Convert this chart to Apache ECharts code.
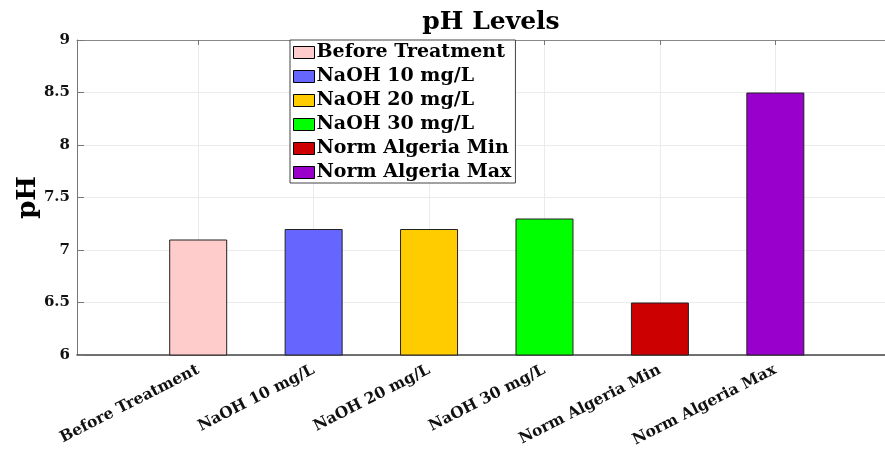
<!DOCTYPE html>
<html><head><meta charset="utf-8">
<script src="https://cdn.jsdelivr.net/npm/echarts@6/dist/echarts.min.js"></script>
<style>html,body{margin:0;padding:0;background:#fff}#c{width:885px;height:451px}</style>
</head><body><div id="c"></div>
<script>
const categories = ["Before Treatment","NaOH 10 mg/L","NaOH 20 mg/L","NaOH 30 mg/L","Norm Algeria Min","Norm Algeria Max"];
const phValues = [7.1, 7.2, 7.2, 7.3, 6.5, 8.5];
const barColors = ["#FFCCCC","#6666FF","#FFCC00","#00FF00","#CC0000","#9900CC"];
const yTicks = [6, 6.5, 7, 7.5, 8, 8.5, 9];

const positions = categories.map((c, i) => i + 1);
const font = "'DejaVu Serif','Liberation Serif',serif";
const chart = echarts.init(document.getElementById('c'));
const series = categories.map((name, i) => ({
  name: name,
  type: 'bar',
  data: [[positions[i], phValues[i]]],
  barWidth: 58,
  barGap: '-100%',
  itemStyle: { color: barColors[i], borderColor: '#222', borderWidth: 1 },
  emphasis: { disabled: true }
}));
chart.setOption({
  animation: false,
  title: { text: 'pH Levels', left: 486, textAlign: 'center', top: 5,
    textStyle: { fontFamily: font, fontWeight: 'bold', fontSize: 25, color: '#000' } },
  legend: {
    orient: 'vertical', left: 290, top: 40,
    backgroundColor: '#fff', borderColor: '#444', borderWidth: 1,
    padding: [3, 4, 1, 3], itemGap: 5, itemWidth: 21, itemHeight: 12,
    icon: 'rect',
    itemStyle: { borderColor: '#000', borderWidth: 1 },
    textStyle: { fontFamily: font, fontWeight: 'bold', fontSize: 19, lineHeight: 19, color: '#000', padding: [0,0,0,-3] },
    data: categories
  },
  grid: { left: 77, right: 0, top: 40, bottom: 96, containLabel: false, outerBoundsMode: 'none' },
  xAxis: [{
    type: 'value', min: -0.05, max: 6.95,
    axisLine: { show: true, onZero: false, lineStyle: { color: '#444', width: 1.5 } },
    axisTick: { show: false, customValues: positions },
    splitLine: { show: true, lineStyle: { color: '#ebebeb' } },
    axisLabel: {
      customValues: positions,
      rotate: 27, margin: 14,
      fontFamily: font, fontWeight: 'bold', fontSize: 15.5, color: '#111',
      formatter: v => categories[Math.round(v) - 1] || ''
    }
  }, {
    type: 'value', position: 'top', min: -0.05, max: 6.95,
    axisLine: { show: true, onZero: false, lineStyle: { color: '#888' } },
    axisTick: { show: true, inside: true, length: 5, customValues: positions, lineStyle: { color: '#777' } },
    axisLabel: { show: false }, splitLine: { show: false }
  }],
  yAxis: {
    type: 'value', min: 6, max: 9, interval: 0.5,
    name: 'pH', nameLocation: 'middle', nameGap: 36, nameRotate: 90, nameMoveOverlap: false,
    nameTextStyle: { fontFamily: font, fontWeight: 'bold', fontSize: 26, color: '#000' },
    axisLine: { show: true, onZero: false, lineStyle: { color: '#777' } },
    axisTick: { show: true, inside: true, length: 7, lineStyle: { color: '#777' } },
    splitLine: { show: true, lineStyle: { color: '#ebebeb' } },
    axisLabel: { fontFamily: font, fontWeight: 'bold', fontSize: 15, color: '#111', margin: 7,
      formatter: v => String(v) }
  },
  series: series
});
</script></body></html>
